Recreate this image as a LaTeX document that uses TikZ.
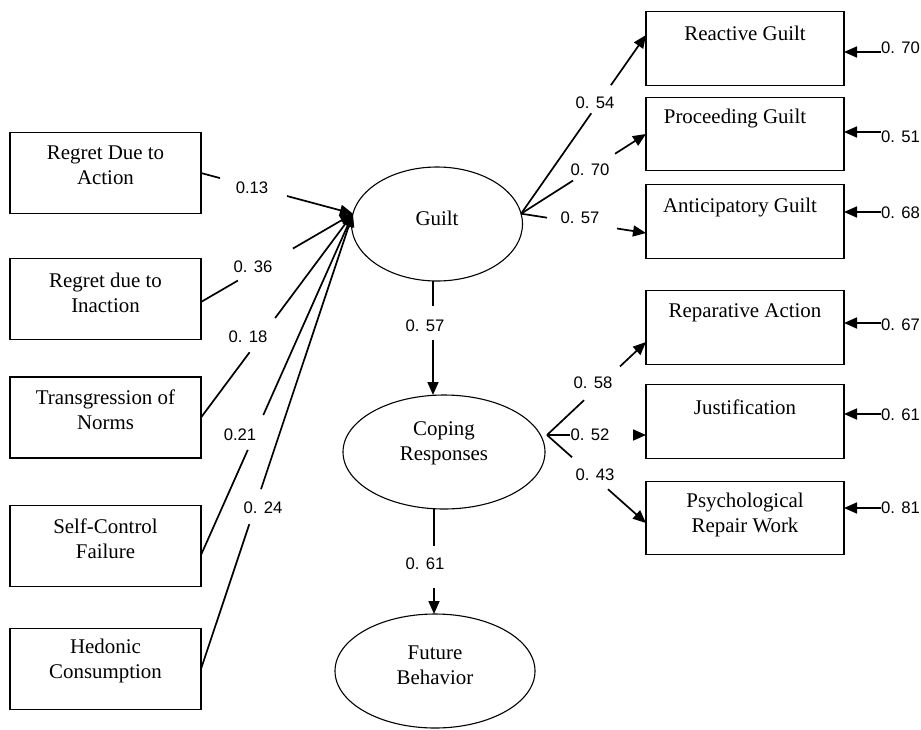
\documentclass[tikz,border=0pt]{standalone}
\usepackage{fontspec}
\setmainfont{Liberation Serif}
\newfontfamily\numfont{Liberation Sans}
\usetikzlibrary{arrows.meta,shapes.geometric,calc}
\begin{document}
\begin{tikzpicture}[x=1pt,y=-1pt,
  box/.style={draw, line width=1.4pt, minimum width=191pt, minimum height=81pt, inner sep=0pt, outer sep=0pt},
  rbox/.style={draw, line width=1.4pt, minimum width=198pt, minimum height=73.5pt, inner sep=0pt, outer sep=0pt},
  lat/.style={draw, ellipse, line width=1.1pt, inner sep=0pt, outer sep=0pt},
  txt/.style={font=\fontsize{20.9}{25}\selectfont, align=center, inner sep=0pt},
  num/.style={font=\numfont\fontsize{16.7}{18}\selectfont, inner sep=0pt},
  ln/.style={line width=1.7pt},
  arr/.style={line width=1.7pt, -{Triangle[length=13pt,width=11pt]}},
]
\useasboundingbox (0,0) rectangle (921,729);

% left boxes
\node[box] (b1) at (105.5,173) {};
\node[box] (b2) at (105.5,299) {};
\node[box] (b3) at (105.5,417.5) {};
\node[box] (b4) at (105.5,546) {};
\node[box] (b5) at (105.5,669) {};
\node[txt] (b1t) at (105.5,165.5) {Regret Due to\\Action};
\node[txt] (b2t) at (105.5,292.5) {Regret due to\\Inaction};
\node[txt] (b3t) at (105.5,410) {Transgression of\\Norms};
\node[txt] (b4t) at (105.5,539) {Self-Control\\Failure};
\node[txt] (b5t) at (105.5,661) {Hedonic\\Consumption};

% right boxes
\node[rbox] (r1) at (745,48.5) {};
\node[rbox] (r2) at (745,134) {};
\node[rbox] (r3) at (745,221.5) {};
\node[rbox] (r4) at (745,327.5) {};
\node[rbox] (r5) at (745,421.5) {};
\node[rbox] (r6) at (745,518) {};
\node[txt] (r1t) at (745,33) {Reactive Guilt};
\node[txt] (r2t) at (735,118) {Proceeding Guilt};
\node[txt] (r3t) at (740,207) {Anticipatory Guilt};
\node[txt] (r4t) at (745,313) {Reparative Action};
\node[txt] (r5t) at (745,407) {Justification};
\node[txt] (r6t) at (745,514.5) {Psychological\\Repair Work};

% ellipses
\node[lat, minimum width=171pt, minimum height=114pt] (Guilt) at (437,224) {};
\node[lat, minimum width=202pt, minimum height=114pt] (Coping) at (444,452) {};
\node[lat, minimum width=200pt, minimum height=114pt] (Future) at (435,671) {};
\node[txt] (gt) at (437,218) {Guilt};
\node[txt] (ct) at (444,443.5) {Coping\\Responses};
\node[txt] (ftx) at (435,665) {Future\\Behavior};

% anchor points
\coordinate (gin) at (Guilt.173);
\coordinate (gout) at (Guilt.7);
\coordinate (s2) at ([yshift=-3pt]b2.east);
\coordinate (s4) at ([yshift=-9pt]b4.east);
\coordinate (t1) at ([yshift=13.5pt]r1.west);
\coordinate (t2) at (r2.west);
\coordinate (t3) at ([yshift=-11.5pt]r3.west);
\coordinate (cout) at ([shift={(2pt,17pt)}]Coping.east);
\coordinate (t4) at ([yshift=-14.5pt]r4.west);
\coordinate (t5) at ([yshift=-13.5pt]r5.west);
\coordinate (t6) at ([yshift=-5pt]r6.west);
\coordinate (gs) at ([xshift=-4pt]Guilt.south);
\coordinate (cn) at ([xshift=-11pt]Coping.north);
\coordinate (cs) at ([xshift=-10pt]Coping.south);
\coordinate (fn) at ([xshift=-1pt]Future.north);

% inputs to Guilt
\draw[ln] (b1.east) -- ($(b1.east)!0.125!(gin)$);
\draw[arr] ($(b1.east)!0.566!(gin)$) -- (gin);
\node[num] (l1) at (252,188) {0.13};
\draw[ln] (s2) -- ($(s2)!0.243!(gin)$);
\draw[arr] ($(s2)!0.605!(gin)$) -- (gin);
\node[num] (l2) at (253,267) {0. 36};
\draw[ln] (b3.east) -- ($(b3.east)!0.32!(gin)$);
\draw[arr] ($(b3.east)!0.488!(gin)$) -- (gin);
\node[num] (l3) at (248,337) {0. 18};
\draw[ln] (s4) -- ($(s4)!0.308!(gin)$);
\draw[arr] ($(s4)!0.41!(gin)$) -- (gin);
\node[num] (l4) at (240,435) {0.21};
\draw[ln] (b5.east) -- ($(b5.east)!0.318!(gin)$);
\draw[arr] ($(b5.east)!0.395!(gin)$) -- (gin);
\node[num] (l5) at (263,508) {0. 24};

% Guilt outputs
\draw[ln] (gout) -- ($(gout)!0.562!(t1)$);
\draw[arr] ($(gout)!0.719!(t1)$) -- (t1);
\node[num] (l6) at (595,103) {0. 54};
\draw[ln] (gout) -- ($(gout)!0.416!(t2)$);
\draw[arr] ($(gout)!0.752!(t2)$) -- (t2);
\node[num] (l7) at (590,170) {0. 70};
\draw[ln] (gout) -- ($(gout)!0.208!(t3)$);
\draw[arr] ($(gout)!0.768!(t3)$) -- (t3);
\node[num] (l8) at (580,218) {0. 57};

% Guilt -> Coping -> Future
\draw[ln] (gs) -- ($(gs)!0.219!(cn)$);
\draw[arr] ($(gs)!0.518!(cn)$) -- (cn);
\node[num] (l9) at (425,326) {0. 57};
\draw[ln] (cs) -- ($(cs)!0.356!(fn)$);
\draw[arr] ($(cs)!0.75!(fn)$) -- (fn);
\node[num] (l10) at (425,564) {0. 61};

% Coping outputs
\draw[ln] (cout) -- ($(cout)!0.374!(t4)$);
\draw[arr] ($(cout)!0.737!(t4)$) -- (t4);
\node[num] (l11) at (593,383) {0. 58};
\draw[ln] (cout) -- ($(cout)!0.232!(t5)$);
\draw[arr] ($(cout)!0.869!(t5)$) -- (t5);
\node[num] (l12) at (590,435) {0. 52};
\draw[ln] (cout) -- ($(cout)!0.253!(t6)$);
\draw[arr] ($(cout)!0.616!(t6)$) -- (t6);
\node[num] (l13) at (595,475) {0. 43};

% error terms
\node[num, anchor=west] (e1) at (881,48) {0. 70};
\node[num, anchor=west] (e2) at (881,137) {0. 51};
\node[num, anchor=west] (e3) at (881,213) {0. 68};
\node[num, anchor=west] (e4) at (881,325) {0. 67};
\node[num, anchor=west] (e5) at (881,415) {0. 61};
\node[num, anchor=west] (e6) at (881,508) {0. 81};
\coordinate (e1a) at ([yshift=-4pt]e1.west);
\coordinate (e2a) at ([yshift=5pt]e2.west);
\coordinate (e3a) at ([yshift=1pt]e3.west);
\coordinate (e4a) at ([yshift=2pt]e4.west);
\coordinate (e5a) at ([yshift=1pt]e5.west);
\coordinate (e6a) at (e6.west);
\draw[arr] (e1a) -- (e1a -| r1.east);
\draw[arr] (e2a) -- (e2a -| r2.east);
\draw[arr] (e3a) -- (e3a -| r3.east);
\draw[arr] (e4a) -- (e4a -| r4.east);
\draw[arr] (e5a) -- (e5a -| r5.east);
\draw[arr] (e6a) -- (e6a -| r6.east);
\end{tikzpicture}
\end{document}
